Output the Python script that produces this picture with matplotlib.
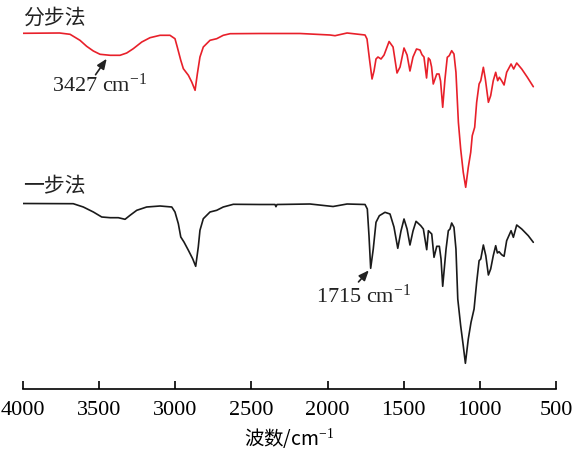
import matplotlib
matplotlib.use("Agg")
import matplotlib.pyplot as plt

plt.rcParams['mathtext.fontset'] = 'custom'
plt.rcParams['mathtext.rm'] = 'Liberation Serif'
plt.rcParams['mathtext.it'] = 'Liberation Serif:italic'
plt.rcParams['mathtext.bf'] = 'Liberation Serif:bold'

# Wavenumber (cm^-1) and relative depth (arbitrary units, larger = stronger absorption, plotted downward)
red_wn = [4000, 3760, 3691, 3626, 3582, 3538, 3494, 3427, 3363, 3319, 3276, 3220, 3166, 3100,
          3035, 3002, 2987, 2964, 2947, 2914, 2892, 2870, 2855, 2838, 2816, 2772, 2728, 2685,
          2640, 2444, 2181, 1984, 1951, 1872,
          1754, 1741, 1725, 1708, 1695, 1682, 1669, 1649, 1629, 1596, 1570, 1544, 1524, 1498,
          1478, 1459, 1439, 1416, 1393, 1380, 1367, 1350, 1338, 1327, 1317, 1306, 1283, 1268,
          1258, 1244, 1229, 1214, 1201, 1185, 1170, 1157, 1141, 1126, 1109, 1093, 1076, 1060,
          1050, 1034, 1021, 1005, 994, 977, 964, 944, 929, 912, 896, 883, 872, 857, 841, 824,
          795, 778, 758, 725, 688, 649]
red_y = [34.3, 34, 35.3, 41.3, 47.3, 52, 55.3, 56.3, 56.3, 54, 49.7, 43, 38.7, 36.3,
         36.3, 39.7, 48, 61.3, 69.7, 76.3, 83, 91.3, 74.7, 58, 48, 41.3, 39.7, 36.3,
         34.7, 34.5, 34.5, 36, 36.7, 34,
         36, 40, 60, 80, 72, 60, 58, 60, 56, 42.5, 48, 74, 68, 49,
         56, 72, 58, 50, 51, 55.7, 58, 79, 59, 61, 68, 85, 75, 75,
         82, 108.3, 80, 58.3, 56.7, 51.7, 55, 73.3, 123.3, 150, 173.3, 188.3, 168.3, 153.3,
         136.7, 128.3, 103.3, 85, 81.7, 68.3, 80, 103.3, 96.7, 81.7, 73.3, 81.7, 78.3, 81.7, 86, 73.3,
         65, 70, 64, 70, 78.3, 87.7]

black_wn = [4000, 3670, 3604, 3538, 3483, 3427, 3374, 3330, 3297, 3253, 3188, 3100, 3023, 3002,
            2980, 2964, 2943, 2914, 2886, 2866, 2849, 2838, 2816, 2772, 2728, 2685, 2619,
            2444, 2345, 2339, 2332, 2115, 1964, 1872, 1754, 1739, 1728, 1717, 1700, 1682, 1660,
            1623, 1590, 1564, 1539, 1518, 1498, 1478, 1459, 1439, 1419, 1388, 1371, 1349, 1338,
            1316, 1301, 1283, 1266, 1255, 1244, 1222, 1207, 1196, 1185, 1170, 1157, 1145, 1126,
            1109, 1095, 1076, 1058, 1038, 1021, 1005, 994, 977, 961, 944, 929, 912, 896, 885,
            874, 857, 841, 824, 795, 780, 758, 725, 682, 649]
black_y = [204.5, 204.7, 208, 213, 218, 218.7, 218.7, 220.3, 216.3, 211.3, 208, 207, 208, 213,
           224.7, 238, 243, 251.3, 259.7, 267.3, 248, 231.3, 219.7, 213, 211.3, 208, 205.3,
           205.5, 205.5, 207.7, 205.5, 205, 207.5, 205, 205.5, 210, 236.7, 269.3, 250, 223.3, 216.7,
           213.3, 215, 228, 249.3, 232, 220, 230, 246, 232, 222.3, 226.7, 230, 250.7, 231.7,
           235, 258.3, 247.3, 247.3, 260, 287.3, 250, 231.7, 230, 224, 228.3, 250, 300, 326.7,
           346.7, 364.3, 340, 323.3, 310, 283.3, 261.7, 260, 246, 256.7, 276, 270, 256.7, 246.7, 254,
           252.7, 255.7, 257.3, 241.7, 231.7, 238.3, 226, 230, 236.7, 243.3]

xticks = [4000, 3500, 3000, 2500, 2000, 1500, 1000, 500]
red_label = "分步法"
black_label = "一步法"
red_peak = (3440, 57.5)
black_peak = (1717, 269.3)

fig = plt.figure(figsize=(5.78, 4.56), dpi=100)
ax = fig.add_axes([23/578, (456-390)/456, (556-23)/578, 390/456])

ax.plot(red_wn, red_y, color='#e8202a', lw=1.2, solid_joinstyle='round', solid_capstyle='round')
ax.plot(black_wn, black_y, color='#1a1a1a', lw=1.2, solid_joinstyle='round', solid_capstyle='round')

ax.set_xlim(4000, 500)
ax.set_ylim(390, 0)

for s in ['top', 'right', 'left']:
    ax.spines[s].set_visible(False)
ax.spines['bottom'].set_linewidth(1.2)
ax.set_yticks([])
ax.set_xticks(xticks)
ax.set_xticklabels([str(t) for t in xticks], fontfamily='Liberation Serif', fontsize=16)
ax.tick_params(axis='x', direction='in', length=6, width=1.2, pad=8)

ax.set_xlabel('波数/cm$^{-1}$', fontfamily=['Noto Sans CJK SC', 'DejaVu Sans'], fontsize=14, labelpad=4)

cjk = ['Noto Sans CJK SC', 'DejaVu Sans']
ax.text(4000, 18, red_label, fontfamily=cjk, fontsize=15, ha='left', va='center', color='#222222')
ax.text(4000, 186, black_label, fontfamily=cjk, fontsize=15, ha='left', va='center', color='#222222')

ax.annotate('', xy=red_peak, xytext=(3534, 78),
            arrowprops=dict(arrowstyle='-|>,head_length=0.6,head_width=0.25', color='#222222', lw=1.2))
ax.text(3494, 85, '3427 cm$^{-1}$', fontfamily='Liberation Serif', fontsize=16,
        ha='center', va='center', color='#222222')

ax.annotate('', xy=black_peak, xytext=(1809, 285),
            arrowprops=dict(arrowstyle='-|>,head_length=0.6,head_width=0.25', color='#222222', lw=1.2))
ax.text(1761, 296, '1715 cm$^{-1}$', fontfamily='Liberation Serif', fontsize=16,
        ha='center', va='center', color='#222222')

fig.savefig('out.png', dpi=100)
